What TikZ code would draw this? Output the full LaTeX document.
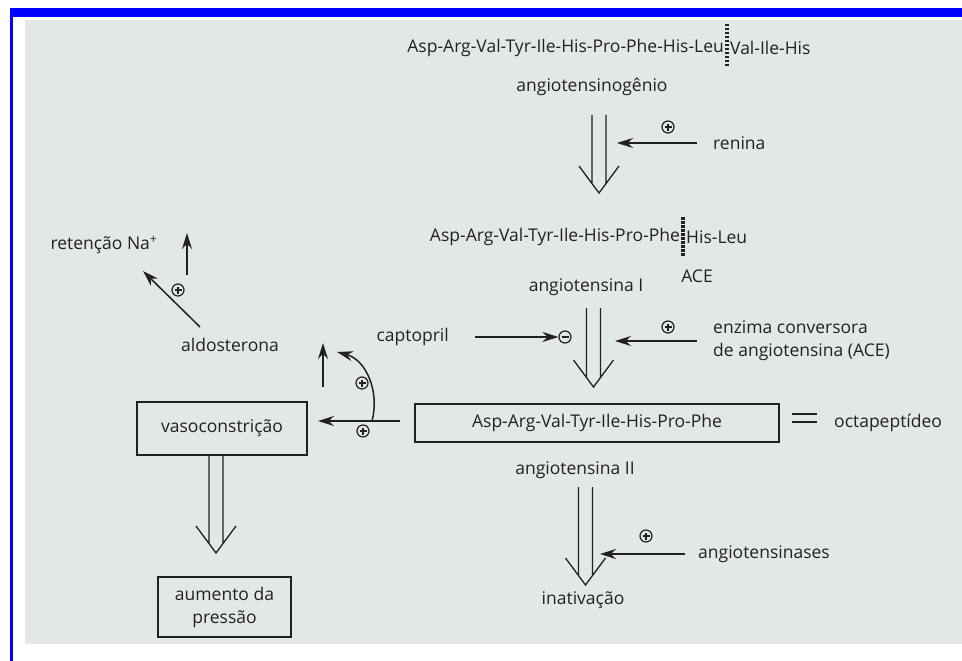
\documentclass[tikz,border=0pt]{standalone}
\usepackage{fontspec}
\setmainfont{Open Sans}
\usepackage{tikz}
\usetikzlibrary{arrows.meta, calc, positioning}

\definecolor{scan}{RGB}{226,232,229}
\definecolor{frame}{RGB}{0,0,255}
\definecolor{ink}{RGB}{35,32,36}

\tikzset{
  lbl/.style={font=\fontsize{17.5}{23}\selectfont, text=ink, inner sep=1pt},
  pepbox/.style={lbl, draw=ink, line width=1.5pt, inner sep=0pt},
  act/.style={draw=ink, line width=1.5pt, -{Stealth[length=16pt,width=10pt]}},
  hollow/.style={draw=ink, line width=1.3pt, to path={let \p1=(\tikztostart), \p2=(\tikztotarget) in
      (\x1-7pt,\y1) -- (\x1-7pt,\y2+9.5pt) (\x1+7pt,\y1) -- (\x1+7pt,\y2+9.5pt)
      (\x1-20pt,\y2+27pt) -- (\x1,\y2) -- (\x1+20pt,\y2+27pt)}},
  plus/.style={circle, draw=ink, line width=1.2pt, minimum size=12pt, inner sep=0pt,
      path picture={\draw[ink, line width=1.2pt] (path picture bounding box.center) +(-3.5pt,0) -- +(3.5pt,0)
        (path picture bounding box.center) +(0,-3.5pt) -- +(0,3.5pt);}},
  minus/.style={circle, draw=ink, line width=1.2pt, minimum size=12pt, inner sep=0pt,
      path picture={\draw[ink, line width=1.2pt] (path picture bounding box.center) +(-3.5pt,0) -- +(3.5pt,0);}},
  cut/.style={ink, line width=3.5pt, dash pattern=on 2.5pt off 1.5pt}
}

\begin{document}
\begin{tikzpicture}[x=1pt,y=-1pt]
  % page, scanned sheet and blue frame
  \useasboundingbox (0,0) rectangle (962,661);
  \fill[white] (0,0) rectangle (962,661);
  \fill[scan] (25,20) rectangle (962,644);
  \fill[frame] (10,8) rectangle (962,17);
  \fill[frame] (10,8) rectangle (12.5,661);

  % angiotensinogenio and renina
  \node[lbl, anchor=east] (pep1) at (725,48) {Asp-Arg-Val-Tyr-Ile-His-Pro-Phe-His-Leu};
  \node[lbl, anchor=west] (tail1) at (729,48) {Val-Ile-His};
  \draw[cut] (727,24) -- (727,66);
  \node[lbl] (agn) at (592,87) {angiotensinogênio};
  \coordinate (h1a) at (599,115);
  \coordinate (h1b) at (599,193);
  \draw[hollow] (h1a) to (h1b);
  \node[lbl, anchor=west] (renina) at (712,143) {renina};
  \coordinate (r1) at (617,143);
  \draw[act] ([xshift=-15pt]renina.west) -- (r1);
  \node[plus] (p1) at (668,127) {};

  % angiotensina I, ACE and captopril
  \node[lbl, anchor=east] (pep2) at (681,237) {Asp-Arg-Val-Tyr-Ile-His-Pro-Phe};
  \node[lbl, anchor=west] (tail2) at (685,237) {His-Leu};
  \draw[cut] (683,217) -- (683,257);
  \node[lbl] (ace) at (697,276) {ACE};
  \node[lbl] (ang1) at (586,287) {angiotensina I};
  \coordinate (h2a) at (593.5,308);
  \coordinate (h2b) at (593.5,387);
  \draw[hollow] (h2a) to (h2b);
  \node[lbl, anchor=east] (capt) at (450,337) {captopril};
  \node[minus] (m1) at (565,337) {};
  \draw[act] ([xshift=25pt]capt.east) -- (m1.west);
  \node[plus] (p2) at (668,327) {};
  \node[lbl, anchor=west, align=left] (enz) at (712,341) {enzima conversora\\de angiotensina (ACE)};
  \coordinate (r2) at (615,341);
  \draw[act] ([xshift=-15pt]enz.west) -- (r2);

  % angiotensina II
  \node[pepbox, minimum width=364pt, minimum height=38pt] (octa) at (597,423) {Asp-Arg-Val-Tyr-Ile-His-Pro-Phe};
  \draw[ink, line width=1.3pt] (792,414) -- (817,414) (792,422) -- (817,422);
  \node[lbl, anchor=west] (octn) at (833,423) {octapeptídeo};
  \node[lbl] (ang2) at (575,470) {angiotensina II};
  \coordinate (h4a) at (585.5,487);
  \coordinate (h4b) at (585.5,585);
  \draw[hollow] (h4a) to (h4b);
  \node[plus] (p4) at (646,536) {};
  \node[lbl, anchor=west] (ases) at (697,554) {angiotensinases};
  \coordinate (r4) at (600,554);
  \draw[act] ([xshift=-12pt]ases.west) -- (r4);
  \node[lbl] (inat) at (583,600) {inativação};

  % effects on the left
  \node[pepbox, minimum width=170pt, minimum height=53pt] (vaso) at (222,428.5) {vasoconstrição};
  \coordinate (vs) at (400,421);
  \coordinate (vk) at (372,421);
  \coordinate (vt) at (318,421);
  \draw[act] (vs) -- (vt);
  \node[plus] (p5) at (363,431) {};
  \coordinate (cu) at (337,352);
  \draw[act] (vk) to[out=75,in=-15] (cu);
  \node[plus] (p6) at (362,383) {};
  \coordinate (u1a) at (323,387);
  \coordinate (u1b) at (323,343);
  \draw[act] (u1a) -- (u1b);
  \node[lbl] (aldo) at (230,345) {aldosterona};
  \coordinate (d1a) at (200,327);
  \coordinate (d1b) at (143,271);
  \draw[act] (d1a) -- (d1b);
  \node[plus] (p7) at (178,290) {};
  \node[lbl] (ret) at (104,245) {retenção Na\textsuperscript{+}};
  \coordinate (u2a) at (187,275);
  \coordinate (u2b) at (187,233);
  \draw[act] (u2a) -- (u2b);

  % aumento da pressao
  \coordinate (h3a) at (216,455);
  \coordinate (h3b) at (216,553);
  \draw[hollow] (h3a) to (h3b);
  \node[pepbox, minimum width=133pt, minimum height=60pt, align=center] (pres) at (224.5,607) {aumento da\\pressão};
\end{tikzpicture}
\end{document}
